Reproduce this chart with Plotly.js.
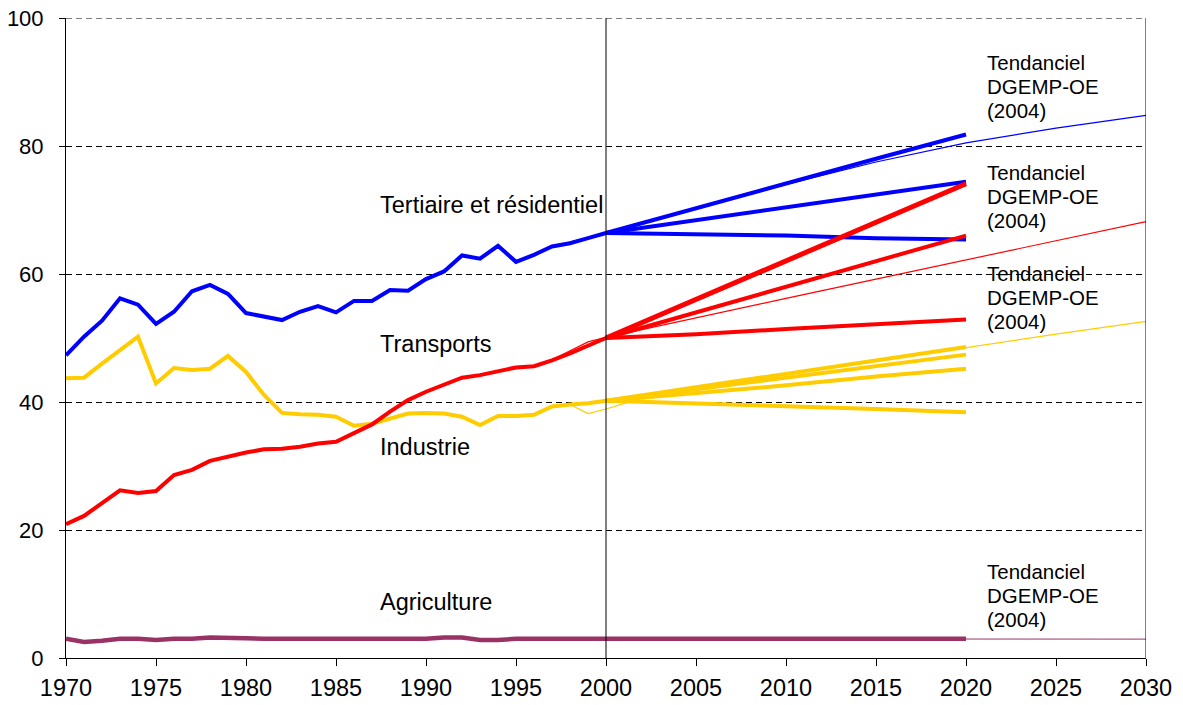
<!DOCTYPE html>
<html>
<head>
<meta charset="utf-8">
<script src="https://cdn.plot.ly/plotly-3.0.1.min.js"></script>
<style>html,body{margin:0;padding:0;background:#fff;}#chart{width:1183px;height:705px;}</style>
</head>
<body>
<div id="chart"></div>
<script>
// Historical data 1970-2000
const years = [1970,1971,1972,1973,1974,1975,1976,1977,1978,1979,1980,1981,1982,1983,1984,1985,1986,1987,1988,1989,1990,1991,1992,1993,1994,1995,1996,1997,1998,1999,2000];
const tertiaire = [47.3,50.2,52.7,56.2,55.2,52.2,54.1,57.3,58.3,56.9,53.9,53.3,52.8,54.1,55.0,54.0,55.8,55.8,57.5,57.4,59.2,60.4,62.9,62.4,64.4,61.9,63.0,64.3,64.8,65.6,66.4];
const transports = [20.9,22.2,24.2,26.2,25.8,26.1,28.6,29.4,30.8,31.5,32.1,32.6,32.7,33.0,33.5,33.8,35.1,36.5,38.5,40.3,41.6,42.7,43.8,44.2,44.8,45.4,45.6,46.5,47.6,48.8,50.0];
const industrie = [43.7,43.8,46.0,48.1,50.2,42.9,45.3,45.0,45.2,47.2,44.7,41.1,38.3,38.1,38.0,37.7,36.3,36.6,37.4,38.2,38.3,38.2,37.7,36.4,37.8,37.8,38.0,39.3,39.6,39.8,40.2];
const agriculture = [3.0,2.5,2.7,3.0,3.0,2.8,3.0,3.0,3.2,3.2,3.1,3.0,3.0,3.0,3.0,3.0,3.0,3.0,3.0,3.0,3.0,3.2,3.2,2.8,2.8,3.0,3.0,3.0,3.0,3.0,3.0];

// Scenario projections 2000-2020
const projYears = [2000,2005,2010,2015,2020];
const tertiaireHaut = [66.4,70.3,74.2,78.0,81.8];
const tertiaireMoyen = [66.4,68.4,70.4,72.4,74.4];
const tertiaireBas = [66.4,66.2,66.0,65.6,65.4];
const transportsHaut = [50.0,56.0,62.1,68.1,74.1];
const transportsMoyen = [50.0,54.0,58.0,62.0,66.0];
const transportsBas = [50.0,50.6,51.4,52.2,52.9];
const industrieHaut = [40.2,42.3,44.4,46.4,48.6];
const industrieMoyen = [40.2,42.0,43.8,45.6,47.4];
const industrieMoyenBas = [40.2,41.4,42.6,44.0,45.2];
const industrieBas = [40.2,39.8,39.4,38.9,38.4];
const agricultureProj = [3.0,3.0,3.0,3.0,3.0];

// Tendanciel DGEMP-OE (2004), thin lines to 2030
const trendYears = [1997,1998,1999,2000,2005,2010,2015,2020,2025,2030];
const tertiaireTrend = [64.3,65.0,65.7,66.4,70.2,74.0,77.5,80.5,82.8,84.8];
const transportsTrend = [46.6,48.0,49.4,50.1,53.2,56.2,59.2,62.2,65.2,68.2];
const agricultureTrend = [3.0,3.0,3.0,3.0,3.0,3.0,3.0,2.95,2.95,2.95];
const industrieTrendYears = [1997,1998,1999,2000,2002,2005,2010,2015,2020,2025,2030];
const industrieTrend = [39.3,39.6,38.2,38.9,40.6,42.2,44.3,46.4,48.6,50.6,52.6];

const xTicks = [1970,1975,1980,1985,1990,1995,2000,2005,2010,2015,2020,2025,2030];
const yTicks = [0,20,40,60,80,100];
const sectorLabels = ['Tertiaire et résidentiel', 'Transports', 'Industrie', 'Agriculture'];
const trendLabelLines = ['Tendanciel', 'DGEMP-OE', '(2004)'];

const BLUE = '#0000FF', RED = '#FF0000', YEL = '#FFCC00', PUR = '#993366';

function line(x, y, color, width) {
  return {x: x, y: y, type: 'scatter', mode: 'lines', line: {color: color, width: width}, hoverinfo: 'skip', showlegend: false};
}

const traces = [
  line(trendYears, agricultureTrend, PUR, 1),
  line(years, agriculture, PUR, 4.5),
  line(projYears, agricultureProj, PUR, 4.5),
  line(industrieTrendYears, industrieTrend, YEL, 1.2),
  line(years, industrie, YEL, 4),
  line(projYears, industrieHaut, YEL, 4),
  line(projYears, industrieMoyen, YEL, 4),
  line(projYears, industrieMoyenBas, YEL, 4),
  line(projYears, industrieBas, YEL, 4),
  line(trendYears, tertiaireTrend, BLUE, 1.2),
  line(years, tertiaire, BLUE, 4),
  line(projYears, tertiaireHaut, BLUE, 4),
  line(projYears, tertiaireMoyen, BLUE, 4),
  line(projYears, tertiaireBas, BLUE, 4),
  line(trendYears, transportsTrend, RED, 1.2),
  line(years, transports, RED, 4),
  line(projYears, transportsHaut, RED, 5),
  line(projYears, transportsMoyen, RED, 4),
  line(projYears, transportsBas, RED, 4)
];

const FONT = 'Liberation Sans, Arial, sans-serif';
function lab(text, x, y, size) {
  return {text: text, x: x, y: y, xref: 'x', yref: 'y', xanchor: 'left', yanchor: 'middle', align: 'left', showarrow: false, font: {family: FONT, size: size, color: '#000'}};
}

const annotations = [
  lab(sectorLabels[0], 1987.33, 70.8, 23.5),
  lab(sectorLabels[1], 1987.33, 49.1, 23.5),
  lab(sectorLabels[2], 1987.33, 32.9, 23.5),
  lab(sectorLabels[3], 1987.33, 8.7, 23.5)
];
// Tendanciel blocks: top-line y positions (3 lines, 3.75 units apart)
[93.1, 75.9, 60.15, 13.45].forEach(function (y0) {
  trendLabelLines.forEach(function (t, i) {
    annotations.push(lab(t, 2021.06, y0 - i * 3.75, 20.5));
  });
});

const layout = {
  width: 1183, height: 705,
  margin: {l: 66, r: 37, t: 18, b: 47},
  paper_bgcolor: '#fff', plot_bgcolor: '#fff',
  font: {family: FONT, color: '#000', size: 23.5},
  showlegend: false,
  xaxis: {
    range: [1970, 2030], tickvals: xTicks, ticktext: xTicks.map(String),
    ticks: 'outside', ticklen: 7, tickcolor: '#000', tickwidth: 1,
    showline: true, linecolor: '#000', linewidth: 1,
    showgrid: false, zeroline: false, ticklabelstandoff: 2,
    tickfont: {family: FONT, size: 23.5, color: '#000'}
  },
  yaxis: {
    range: [0, 100], tickvals: yTicks, ticktext: yTicks.map(String),
    ticks: 'outside', ticklen: 6, tickcolor: '#000', tickwidth: 1,
    showline: true, linecolor: '#000', linewidth: 1,
    showgrid: true, gridcolor: '#000', gridwidth: 1, griddash: '6px,4px',
    zeroline: false, ticklabelstandoff: 11,
    tickfont: {family: FONT, size: 22, color: '#000'}
  },
  shapes: [
    {type: 'line', xref: 'x', yref: 'paper', x0: 2000, x1: 2000, y0: 0, y1: 1, line: {color: '#000', width: 1}},
    {type: 'line', xref: 'x', yref: 'paper', x0: 2030, x1: 2030, y0: 0, y1: 1, line: {color: '#000', width: 1}},
    {type: 'line', xref: 'paper', yref: 'y', x0: 0, x1: 1, y0: 100, y1: 100, line: {color: '#000', width: 1, dash: '6px,4px'}}
  ],
  annotations: annotations
};

Plotly.newPlot('chart', traces, layout, {displayModeBar: false, staticPlot: true});
</script>
</body>
</html>
